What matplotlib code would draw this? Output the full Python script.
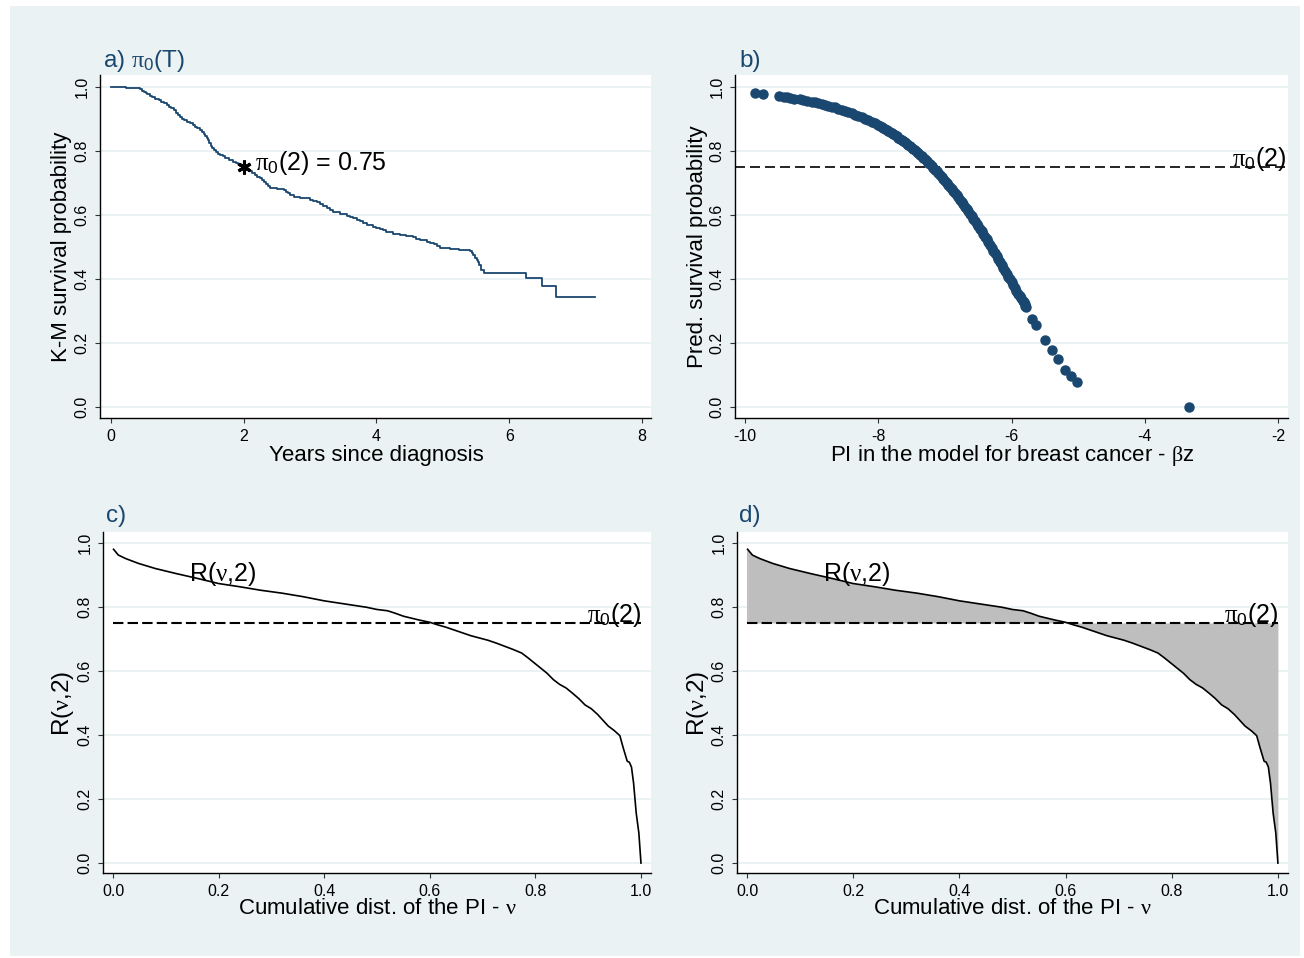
import matplotlib
matplotlib.use("Agg")
import matplotlib.pyplot as plt
from matplotlib.patches import Rectangle

plt.rcParams['font.family'] = ['Liberation Sans', 'DejaVu Sans']
plt.rcParams['mathtext.fontset'] = 'custom'
plt.rcParams['mathtext.rm'] = 'Liberation Serif'
plt.rcParams['mathtext.it'] = 'Liberation Serif:italic'
plt.rcParams['mathtext.sf'] = 'Liberation Sans'
plt.rcParams['mathtext.bf'] = 'Liberation Serif:bold'
plt.rcParams['axes.unicode_minus'] = False

# ---------------- data ----------------
# a) Kaplan-Meier estimate (time in years, survival)
km_time = [0.00, 0.22, 0.44, 0.47, 0.50, 0.52, 0.54, 0.58, 0.62, 0.66, 0.70,
           0.73, 0.76, 0.80, 0.84, 0.88, 0.91, 0.95, 0.98, 1.01, 1.04, 1.07,
           1.10, 1.15, 1.19, 1.23, 1.26, 1.30, 1.34, 1.37, 1.40, 1.42, 1.44,
           1.46, 1.48, 1.50, 1.52, 1.55, 1.58, 1.61, 1.64, 1.68, 1.72, 1.78,
           1.84, 1.88, 1.92, 1.96, 1.99, 2.03, 2.06, 2.10, 2.13, 2.17, 2.20,
           2.24, 2.27, 2.30, 2.33, 2.37, 2.40, 2.50, 2.60, 2.63, 2.66, 2.70,
           2.75, 2.85, 2.95, 3.00, 3.05, 3.10, 3.15, 3.20, 3.25, 3.30, 3.35,
           3.45, 3.55, 3.60, 3.65, 3.70, 3.75, 3.80, 3.85, 3.95, 4.00, 4.05,
           4.10, 4.15, 4.25, 4.35, 4.45, 4.55, 4.60, 4.65, 4.76, 4.81, 4.86,
           4.91, 4.96, 5.10, 5.25, 5.41, 5.44, 5.46, 5.49, 5.51, 5.53, 5.55,
           5.58, 5.62, 6.26, 6.49, 6.71, 7.29]
km_surv = [1.000, 0.997, 0.993, 0.989, 0.985, 0.981, 0.978, 0.973, 0.968, 0.964, 0.961,
           0.958, 0.954, 0.950, 0.945, 0.939, 0.933, 0.927, 0.920, 0.912, 0.905, 0.901,
           0.897, 0.892, 0.886, 0.881, 0.876, 0.871, 0.866, 0.860, 0.853, 0.847, 0.840,
           0.833, 0.825, 0.816, 0.808, 0.802, 0.797, 0.792, 0.788, 0.784, 0.779, 0.773,
           0.767, 0.763, 0.760, 0.755, 0.751, 0.746, 0.742, 0.737, 0.732, 0.726, 0.720,
           0.715, 0.710, 0.704, 0.698, 0.690, 0.683, 0.680, 0.678, 0.673, 0.668, 0.662,
           0.657, 0.654, 0.652, 0.648, 0.644, 0.640, 0.636, 0.629, 0.622, 0.616, 0.610,
           0.604, 0.597, 0.594, 0.590, 0.585, 0.580, 0.574, 0.569, 0.563, 0.560, 0.556,
           0.552, 0.548, 0.542, 0.538, 0.534, 0.530, 0.526, 0.522, 0.517, 0.513, 0.508,
           0.502, 0.496, 0.493, 0.491, 0.489, 0.482, 0.475, 0.467, 0.459, 0.452, 0.445,
           0.428, 0.419, 0.403, 0.379, 0.343, 0.343]
t_star = 2
pi0_2 = 0.75

# b) prognostic index vs predicted 2-year survival
pi_vals = [-9.85, -9.73, -9.49, -9.41, -9.37, -9.32, -9.26, -9.17, -9.13, -9.07,
           -9.00, -8.95, -8.90, -8.85, -8.80, -8.75, -8.70, -8.65, -8.60, -8.55,
           -8.50, -8.45, -8.40, -8.35, -8.30, -8.25, -8.20, -8.15, -8.10, -8.05,
           -8.000, -7.975, -7.950, -7.925, -7.900, -7.875, -7.850, -7.825,
           -7.800, -7.775, -7.750, -7.725, -7.700, -7.675, -7.650, -7.625,
           -7.600, -7.575, -7.550, -7.525, -7.500, -7.475, -7.450, -7.425,
           -7.400, -7.375, -7.350, -7.325, -7.300, -7.275, -7.250, -7.225,
           -7.200, -7.175, -7.150, -7.125, -7.100, -7.075, -7.050, -7.025,
           -7.000, -6.975, -6.950, -6.925, -6.900, -6.875, -6.850, -6.825,
           -6.800, -6.775, -6.750, -6.725, -6.700, -6.675, -6.650, -6.625,
           -6.600, -6.575, -6.550, -6.525, -6.500, -6.475, -6.450, -6.425,
           -6.400, -6.375, -6.350, -6.325, -6.300, -6.275, -6.250, -6.225,
           -6.200, -6.175, -6.150, -6.125, -6.100, -6.075, -6.050, -6.025,
           -6.000, -5.975, -5.950, -5.925, -5.900, -5.875, -5.850, -5.825,
           -5.810, -5.800, -5.790, -5.780,
           -5.69, -5.63, -5.50, -5.39, -5.30, -5.19, -5.10, -5.02, -3.34]
pred_surv = [0.982, 0.979, 0.973, 0.970, 0.968, 0.966, 0.964, 0.961, 0.959, 0.957,
             0.954, 0.952, 0.950, 0.947, 0.944, 0.942, 0.939, 0.936, 0.932, 0.929,
             0.926, 0.922, 0.918, 0.914, 0.910, 0.906, 0.901, 0.896, 0.891, 0.886,
             0.880, 0.878, 0.875, 0.872, 0.869, 0.866, 0.862, 0.859,
             0.856, 0.853, 0.849, 0.846, 0.842, 0.839, 0.835, 0.831,
             0.827, 0.823, 0.819, 0.815, 0.810, 0.806, 0.802, 0.798,
             0.793, 0.788, 0.783, 0.779, 0.774, 0.769, 0.764, 0.759,
             0.753, 0.748, 0.742, 0.737, 0.731, 0.725, 0.719, 0.713,
             0.707, 0.701, 0.695, 0.689, 0.682, 0.676, 0.669, 0.662,
             0.655, 0.648, 0.641, 0.634, 0.626, 0.619, 0.612, 0.604,
             0.596, 0.589, 0.581, 0.573, 0.565, 0.557, 0.549, 0.541,
             0.532, 0.524, 0.515, 0.507, 0.498, 0.489, 0.480, 0.472,
             0.463, 0.454, 0.445, 0.436, 0.426, 0.417, 0.408, 0.399,
             0.390, 0.381, 0.372, 0.363, 0.353, 0.347, 0.340, 0.332,
             0.327, 0.322, 0.317, 0.312,
             0.275, 0.255, 0.210, 0.177, 0.149, 0.116, 0.096, 0.080, 0.000]

# c), d) R(nu,2) against the cumulative distribution of the PI
nu = [0.001, 0.010, 0.024, 0.048, 0.080, 0.120, 0.160, 0.200, 0.240, 0.280,
      0.320, 0.360, 0.400, 0.440, 0.480, 0.500, 0.520, 0.535, 0.550, 0.565,
      0.580, 0.600, 0.615, 0.630, 0.646, 0.662, 0.678, 0.694, 0.710, 0.726,
      0.742, 0.758, 0.774, 0.786, 0.798, 0.810, 0.822, 0.834, 0.846, 0.858,
      0.870, 0.882, 0.894, 0.906, 0.918, 0.928, 0.938, 0.950, 0.960, 0.963,
      0.966, 0.970, 0.974, 0.978, 0.982, 0.986, 0.991, 0.996, 1.000]
r_nu = [0.980, 0.962, 0.951, 0.936, 0.920, 0.904, 0.889, 0.873, 0.863, 0.852,
        0.843, 0.832, 0.819, 0.809, 0.799, 0.792, 0.788, 0.780, 0.771, 0.765,
        0.759, 0.752, 0.744, 0.737, 0.728, 0.719, 0.710, 0.703, 0.696, 0.687,
        0.677, 0.667, 0.656, 0.641, 0.625, 0.609, 0.593, 0.573, 0.558, 0.547,
        0.531, 0.514, 0.494, 0.482, 0.464, 0.446, 0.428, 0.413, 0.398, 0.380,
        0.362, 0.340, 0.318, 0.315, 0.300, 0.250, 0.156, 0.094, 0.000]

y_ticks = [0.0, 0.2, 0.4, 0.6, 0.8, 1.0]
y_ticklabels = ['0.0', '0.2', '0.4', '0.6', '0.8', '1.0']
a_xticks = [0, 2, 4, 6, 8]
b_xticks = [-10, -8, -6, -4, -2]
cd_xticks = [0.0, 0.2, 0.4, 0.6, 0.8, 1.0]
cd_xticklabels = ['0.0', '0.2', '0.4', '0.6', '0.8', '1.0']

# ---------------- styling ----------------
NAVY = '#1a476f'
BG = '#eaf2f3'
W, H = 1304, 958
PI0 = r'$\mathrm{\pi}_{\mathsf{0}}$'
NU = r'$\mathrm{\nu}$'
BETA = r'$\mathrm{\beta}$'
ANN = 18

fig = plt.figure(figsize=(W / 100, H / 100), dpi=100)
fig.patch.set_facecolor('white')
fig.patches.append(Rectangle((10 / W, 1 - 956 / H), 1290 / W, 950 / H,
                             transform=fig.transFigure, facecolor=BG,
                             edgecolor='none', zorder=-10))


def add_panel(left, top, right, bottom):
    ax = fig.add_axes([left / W, 1 - bottom / H, (right - left) / W, (bottom - top) / H])
    ax.set_facecolor('white')
    for s in ('top', 'right'):
        ax.spines[s].set_visible(False)
    for s in ('left', 'bottom'):
        ax.spines[s].set_color('black')
        ax.spines[s].set_linewidth(1.0)
    ax.tick_params(direction='out', length=3.6, width=0.8, color='#333333',
                   labelsize=11.5, pad=4)
    ax.set_yticks(y_ticks)
    ax.set_yticklabels(y_ticklabels, rotation=90, va='center')
    ax.grid(axis='y', color=BG, linewidth=1.4)
    ax.set_axisbelow(True)
    return ax


def px(x, y, s, **kw):
    fig.text(x / W, 1 - y / H, s, **kw)


# a) K-M curve
ax = add_panel(100, 75, 651, 418)
ax.plot(km_time, km_surv, drawstyle='steps-post', color=NAVY, lw=1.3)
ax.plot(t_star, pi0_2, marker=(6, 2, 0), ms=10, mew=2.2, color='black', zorder=5)
ax.annotate(PI0 + '(2) = 0.75', xy=(t_star, pi0_2), xytext=(8, 3),
            textcoords='offset points', ha='left', va='center', fontsize=ANN)
ax.set_xticks(a_xticks)
ax.set_xlim(-0.166, 8.136)
ax.set_ylim(-0.034, 1.0375)

# b) predicted survival vs PI
ax = add_panel(735, 75, 1288, 418)
ax.axhline(pi0_2, color='black', lw=1.2, ls=(0, (6, 3)), zorder=2)
ax.plot(pi_vals, pred_surv, 'o', ms=6.5, color=NAVY, mec=NAVY, zorder=3)
ax.text(-1.87, pi0_2 + 0.004, PI0 + '(2)', ha='right', va='baseline', fontsize=ANN)
ax.set_xticks(b_xticks)
ax.set_xlim(-10.15, -1.85)
ax.set_ylim(-0.034, 1.0375)

# c) R(nu,2)
ax = add_panel(103, 532, 651, 873)
ax.plot([0, 1], [pi0_2, pi0_2], color='black', lw=1.5, ls=(0, (5, 2)), zorder=2)
ax.plot(nu, r_nu, color='black', lw=1.2, zorder=3)
ax.text(0.143, 0.88, 'R(' + NU + ',2)', ha='left', va='baseline', fontsize=ANN)
ax.text(1.0, pi0_2 + 0.004, PI0 + '(2)', ha='right', va='baseline', fontsize=ANN)
ax.set_xticks(cd_xticks)
ax.set_xticklabels(cd_xticklabels)
ax.set_xlim(-0.019, 1.019)
ax.set_ylim(-0.031, 1.034)

# d) R(nu,2) with area between curve and pi0(2) shaded
ax = add_panel(737, 532, 1288, 873)
ax.fill_between(nu, r_nu, pi0_2, color='#bebebe', lw=0, zorder=1)
ax.fill_between([0, nu[0]], [r_nu[0], r_nu[0]], pi0_2, color='#bebebe', lw=0, zorder=1)
ax.plot([0, 1], [pi0_2, pi0_2], color='black', lw=1.5, ls=(0, (5, 2)), zorder=2)
ax.plot(nu, r_nu, color='black', lw=1.2, zorder=3)
ax.text(0.143, 0.88, 'R(' + NU + ',2)', ha='left', va='baseline', fontsize=ANN)
ax.text(1.0, pi0_2 + 0.004, PI0 + '(2)', ha='right', va='baseline', fontsize=ANN)
ax.set_xticks(cd_xticks)
ax.set_xticklabels(cd_xticklabels)
ax.set_xlim(-0.019, 1.019)
ax.set_ylim(-0.031, 1.034)

# panel titles
px(103, 61, 'a) ' + PI0 + '(T)', ha='left', va='center', fontsize=17.5, color=NAVY)
px(739, 61, 'b)', ha='left', va='center', fontsize=17.5, color=NAVY)
px(106, 516, 'c)', ha='left', va='center', fontsize=17.5, color=NAVY)
px(739, 516, 'd)', ha='left', va='center', fontsize=17.5, color=NAVY)

# axis titles
px(376, 455, 'Years since diagnosis', ha='center', va='center', fontsize=16)
px(1012, 455, 'PI in the model for breast cancer - ' + BETA + 'z', ha='center', va='center', fontsize=16)
px(377, 908, 'Cumulative dist. of the PI - ' + NU, ha='center', va='center', fontsize=16)
px(1012, 908, 'Cumulative dist. of the PI - ' + NU, ha='center', va='center', fontsize=16)
px(62, 247, 'K-M survival probability', ha='center', va='center', rotation=90, fontsize=16)
px(697, 247, 'Pred. survival probability', ha='center', va='center', rotation=90, fontsize=16)
px(63, 703, 'R(' + NU + ',2)', ha='center', va='center', rotation=90, fontsize=17.5)
px(698, 703, 'R(' + NU + ',2)', ha='center', va='center', rotation=90, fontsize=17.5)

fig.savefig('out.png', dpi=100, facecolor=fig.get_facecolor())
